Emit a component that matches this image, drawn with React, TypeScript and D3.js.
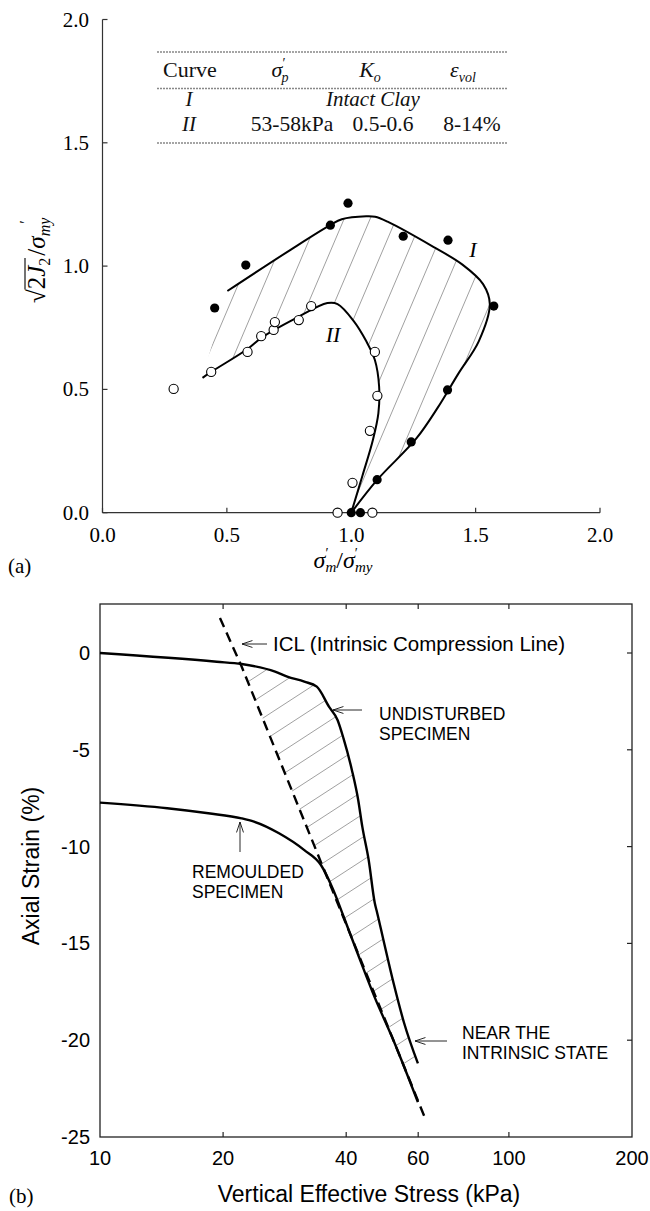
import React from 'react';
import * as d3 from 'd3';

type P = [number, number];

// ---------- (a) data ----------
const topXTicks = [0, 0.5, 1.0, 1.5, 2.0];
const topYTicks = [0, 0.5, 1.0, 1.5, 2.0];

const curveIDots: P[] = [
  [0.987, 1.255], [0.916, 1.166], [1.209, 1.121], [1.389, 1.105], [0.576, 1.004],
  [0.451, 0.83], [1.573, 0.838], [1.387, 0.498], [1.241, 0.287], [1.104, 0.134],
  [1.0, 0.0], [1.037, 0.0],
];
const curveIIDots: P[] = [
  [0.286, 0.502], [0.437, 0.571], [0.583, 0.652], [0.638, 0.716], [0.688, 0.741],
  [0.693, 0.773], [0.789, 0.781], [0.839, 0.838], [1.095, 0.652], [1.105, 0.474],
  [1.075, 0.332], [1.005, 0.121], [0.945, 0.0], [1.085, 0.0],
];
const curveILine: P[] = [
  [0.502, 0.899], [0.759, 1.068], [0.915, 1.166], [0.962, 1.19], [1.06, 1.202],
  [1.096, 1.2], [1.146, 1.18], [1.33, 1.078], [1.447, 1.006], [1.53, 0.927],
  [1.557, 0.846], [1.513, 0.696], [1.43, 0.563], [1.347, 0.425], [1.261, 0.3],
  [1.105, 0.134], [1.0, 0.0],
];
const curveIILine: P[] = [
  [0.402, 0.547], [0.437, 0.571], [0.583, 0.664], [0.64, 0.71], [0.78, 0.79],
  [0.904, 0.85], [0.945, 0.846], [1.01, 0.777], [1.06, 0.696], [1.095, 0.619],
  [1.112, 0.512], [1.109, 0.403], [1.087, 0.295], [1.045, 0.15], [1.0, 0.0],
];

// ---------- (b) data ----------
const botXTicks = [10, 20, 40, 60, 100, 200];
const botYTicks = [0, -5, -10, -15, -20, -25];

const undisturbed: P[] = [
  [10, 0], [19.3, -0.45], [22.2, -0.57], [26.8, -0.96], [28.7, -1.22], [31.6, -1.48],
  [33.9, -1.74], [36.3, -2.77], [38.1, -3.46], [39.4, -4.41], [41.3, -6.04],
  [42.8, -7.59], [43.8, -8.97], [45.4, -10.69], [47.0, -12.93], [47.6, -13.4],
  [49.3, -14.8], [52.3, -17.1], [55.4, -19.1], [59.9, -21.2],
];
const remoulded: P[] = [
  [10, -7.73], [14.6, -8.02], [18.4, -8.28], [22.2, -8.54], [23.8, -8.71],
  [27.4, -9.31], [31.6, -10.18], [34.7, -10.95], [37.2, -12.24], [39.4, -13.6],
  [42.8, -15.6], [47.0, -17.8], [51.7, -19.8], [59.9, -23.2],
];
const icl: P[] = [
  [19.65, 1.81], [22.2, -0.7], [34.7, -10.8], [62.3, -24.0],
];

// ---------- scales ----------
const xTop = d3.scaleLinear().domain([0, 2]).range([102.5, 600]);
const yTop = d3.scaleLinear().domain([0, 2]).range([512.7, 19.5]);
const xBot = d3.scaleLog().domain([10, 200]).range([100, 632]);
const yBot = d3.scaleLinear().domain([-25, 0]).range([1137, 653]);
const botTopY = 604;

const serif = 'Liberation Serif, Times New Roman, serif';
const sans = 'Liberation Sans, Arial, sans-serif';

const lineTop = d3.line<P>().x(d => xTop(d[0])).y(d => yTop(d[1])).curve(d3.curveCatmullRom.alpha(0.5));
const lineBot = d3.line<P>().x(d => xBot(d[0])).y(d => yBot(d[1])).curve(d3.curveMonotoneX);
const lineBotLin = d3.line<P>().x(d => xBot(d[0])).y(d => yBot(d[1]));

function Arrow({ x1, y1, x2, y2 }: { x1: number; y1: number; x2: number; y2: number }) {
  const a = Math.atan2(y2 - y1, x2 - x1);
  const L = 11, h = 0.32;
  const p1 = [x2 - L * Math.cos(a - h), y2 - L * Math.sin(a - h)];
  const p2 = [x2 - L * Math.cos(a + h), y2 - L * Math.sin(a + h)];
  return (
    <path d={`M${x1},${y1}L${x2},${y2}M${p1[0]},${p1[1]}L${x2},${y2}L${p2[0]},${p2[1]}`}
      fill="none" stroke="#111" strokeWidth={0.9} />
  );
}

export default function App() {
  const clipTop = lineTop(curveILine)! + lineTop([...curveIILine].reverse())!.replace(/^M/, 'L') + 'Z';
  const topHatch: string[] = [];
  const s1 = 2.35;
  for (let k = -12; k < 30; k++) {
    const xb = 60 + k * 26;
    topHatch.push(`M${xb},520L${xb + 500 / s1},20`);
  }

  const und = undisturbed.filter(d => d[0] >= 22.2);
  const endY = und[und.length - 1][1];
  const iclUp = icl.filter(d => d[1] > endY && d[1] < -0.5);
  const a = icl[icl.length - 2], b = icl[icl.length - 1];
  const t = (endY - a[1]) / (b[1] - a[1]);
  const iclEnd: P = [Math.pow(10, Math.log10(a[0]) + t * (Math.log10(b[0]) - Math.log10(a[0]))), endY];
  const clipBotPts: P[] = [...und, iclEnd, ...iclUp.reverse()];
  const clipBot = lineBotLin(clipBotPts)! + 'Z';
  const botHatch: string[] = [];
  for (let k = -5; k < 40; k++) {
    const yb = 640 + k * 23;
    botHatch.push(`M100,${yb}L632,${yb - 0.65 * 532}`);
  }

  return (
    <svg width={650} height={1211} style={{ position: 'absolute', left: 0, top: 0, background: '#fff' }}>
      <defs>
        <clipPath id="clipTop"><path d={clipTop} /></clipPath>
        <clipPath id="clipBot"><path d={clipBot} /></clipPath>
      </defs>
      <rect width={650} height={1211} fill="#fff" />

      {/* ===================== (a) ===================== */}
      <g>
        <g clipPath="url(#clipTop)">
          {topHatch.map((d, i) => <path key={i} d={d} stroke="#777" strokeWidth={0.7} fill="none" />)}
        </g>
        <line x1={xTop(0)} x2={xTop(0)} y1={yTop(0)} y2={yTop(2)} stroke="#333" strokeWidth={1.2} />
        <line x1={xTop(0)} x2={xTop(2)} y1={yTop(0)} y2={yTop(0)} stroke="#333" strokeWidth={1.2} />
        {topYTicks.map(v => (
          <g key={'ty' + v}>
            <line x1={xTop(0)} x2={xTop(0) + 5} y1={yTop(v)} y2={yTop(v)} stroke="#333" strokeWidth={1.2} />
            <text x={89} y={yTop(v) + 7} textAnchor="end" fontFamily={serif} fontSize={21}>{v.toFixed(1)}</text>
          </g>
        ))}
        {topXTicks.map(v => (
          <g key={'tx' + v}>
            <line x1={xTop(v)} x2={xTop(v)} y1={yTop(0)} y2={yTop(0) - 5} stroke="#333" strokeWidth={1.2} />
            <text x={xTop(v)} y={542} textAnchor="middle" fontFamily={serif} fontSize={21}>{v.toFixed(1)}</text>
          </g>
        ))}

        {/* table */}
        <line x1={157} x2={508} y1={52} y2={52} stroke="#888" strokeWidth={1.3} strokeDasharray="2 1" />
        <line x1={157} x2={508} y1={88.5} y2={88.5} stroke="#888" strokeWidth={1.3} strokeDasharray="2 1" />
        <line x1={157} x2={508} y1={143} y2={143} stroke="#888" strokeWidth={1.3} strokeDasharray="2 1" />
        <g fontFamily={serif} fontSize={21} fill="#111">
          <text x={190} y={77} textAnchor="middle" fontSize={22}>Curve</text>
          <text x={280} y={77} textAnchor="middle" fontSize={22}>
            <tspan fontStyle="italic">σ</tspan>
            <tspan fontSize={14} dy={-9}>′</tspan>
            <tspan fontSize={14} fontStyle="italic" dx={-4} dy={14}>p</tspan>
          </text>
          <text x={370} y={77} textAnchor="middle" fontSize={22}>
            <tspan fontStyle="italic">K</tspan>
            <tspan fontSize={14} fontStyle="italic" dy={5}>o</tspan>
          </text>
          <text x={463} y={77} textAnchor="middle" fontSize={22}>
            <tspan fontStyle="italic">ε</tspan>
            <tspan fontSize={14} fontStyle="italic" dy={5}>vol</tspan>
          </text>
          <text x={189} y={106} textAnchor="middle" fontStyle="italic">I</text>
          <text x={373} y={106} textAnchor="middle" fontStyle="italic">Intact Clay</text>
          <text x={189} y={130.5} textAnchor="middle" fontStyle="italic">II</text>
          <text x={292} y={130.5} textAnchor="middle" fontSize={21.5}>53-58kPa</text>
          <text x={383} y={130.5} textAnchor="middle" fontSize={21.5}>0.5-0.6</text>
          <text x={472} y={130.5} textAnchor="middle" fontSize={21.5}>8-14%</text>
        </g>

        <path d={lineTop(curveILine)!} fill="none" stroke="#000" strokeWidth={2} />
        <path d={lineTop(curveIILine)!} fill="none" stroke="#000" strokeWidth={2} />
        {curveIIDots.map((d, i) => (
          <circle key={'o' + i} cx={xTop(d[0])} cy={yTop(d[1])} r={4.6} fill="#fff" stroke="#000" strokeWidth={1.1} />
        ))}
        {curveIDots.map((d, i) => (
          <circle key={'f' + i} cx={xTop(d[0])} cy={yTop(d[1])} r={4.6} fill="#000" />
        ))}
        <text x={473} y={257} fontFamily={serif} fontSize={22} fontStyle="italic" textAnchor="middle">I</text>
        <text x={333} y={342} fontFamily={serif} fontSize={22} fontStyle="italic" textAnchor="middle">II</text>

        <text x={343} y={568} textAnchor="middle" fontFamily={serif} fontSize={24}>
          <tspan fontStyle="italic">σ</tspan>
          <tspan fontSize={14} dy={-10}>′</tspan>
          <tspan fontSize={15} fontStyle="italic" dx={-3} dy={14}>m</tspan>
          <tspan dy={-4}>/</tspan>
          <tspan fontStyle="italic">σ</tspan>
          <tspan fontSize={14} dy={-10}>′</tspan>
          <tspan fontSize={15} fontStyle="italic" dx={-3} dy={14}>my</tspan>
        </text>
        <text x={8} y={573} fontFamily={serif} fontSize={21}>(a)</text>
        <g transform="translate(45,256) rotate(-90)">
          <text x={-47} y={0} fontFamily={serif} fontSize={25}>
            <tspan>√</tspan>
            <tspan>2</tspan>
            <tspan fontStyle="italic">J</tspan>
            <tspan fontSize={16} dy={5}>2</tspan>
            <tspan dy={-5} dx={2}>/</tspan>
            <tspan fontStyle="italic">σ</tspan>
            <tspan fontSize={16} fontStyle="italic" dy={5}>my</tspan>
            <tspan fontSize={16} dx={-6} dy={-19}>′</tspan>
          </text>
          <line x1={-33.5} x2={-2} y1={-20} y2={-20} stroke="#000" strokeWidth={1.1} />
        </g>
      </g>

      {/* ===================== (b) ===================== */}
      <g>
        <g clipPath="url(#clipBot)">
          {botHatch.map((d, i) => <path key={i} d={d} stroke="#777" strokeWidth={0.7} fill="none" />)}
        </g>
        <rect x={100} y={botTopY} width={532} height={yBot(-25) - botTopY} fill="none" stroke="#222" strokeWidth={1.3} />
        {botXTicks.slice(1, -1).map(v => (
          <g key={'bx' + v}>
            <line x1={xBot(v)} x2={xBot(v)} y1={yBot(-25)} y2={yBot(-25) - 5} stroke="#222" strokeWidth={1.2} />
            <line x1={xBot(v)} x2={xBot(v)} y1={botTopY} y2={botTopY + 5} stroke="#222" strokeWidth={1.2} />
          </g>
        ))}
        {botXTicks.map(v => (
          <text key={'bxl' + v} x={xBot(v)} y={1165} textAnchor="middle" fontFamily={sans} fontSize={20}>{v}</text>
        ))}
        {botYTicks.map(v => (
          <g key={'by' + v}>
            {v > -25 && <line x1={632} x2={627} y1={yBot(v)} y2={yBot(v)} stroke="#222" strokeWidth={1.2} />}
            <text x={90} y={yBot(v) + 7} textAnchor="end" fontFamily={sans} fontSize={20}>{v}</text>
          </g>
        ))}

        <path d={lineBot(undisturbed)!} fill="none" stroke="#000" strokeWidth={2.4} />
        <path d={lineBot(remoulded)!} fill="none" stroke="#000" strokeWidth={2.4} />
        <path d={lineBotLin(icl)!} fill="none" stroke="#000" strokeWidth={2.4} strokeDasharray="10 6" />

        <Arrow x1={267} y1={644} x2={242} y2={644} />
        <text x={273} y={651} fontFamily={sans} fontSize={20.5}>ICL (Intrinsic Compression Line)</text>
        <Arrow x1={362} y1={710} x2={333} y2={710} />
        <text x={379} y={720} fontFamily={sans} fontSize={17.5}>UNDISTURBED</text>
        <text x={379} y={740} fontFamily={sans} fontSize={17.5}>SPECIMEN</text>
        <Arrow x1={240} y1={852} x2={240} y2={822} />
        <text x={192} y={878} fontFamily={sans} fontSize={17.5}>REMOULDED</text>
        <text x={192} y={898} fontFamily={sans} fontSize={17.5}>SPECIMEN</text>
        <Arrow x1={447} y1={1041} x2={415} y2={1041} />
        <text x={462} y={1039} fontFamily={sans} fontSize={17.5}>NEAR THE</text>
        <text x={462} y={1059} fontFamily={sans} fontSize={17.5}>INTRINSIC STATE</text>

        <g transform="translate(39,866) rotate(-90)">
          <text x={0} y={0} textAnchor="middle" fontFamily={sans} fontSize={23}>Axial Strain (%)</text>
        </g>
        <text x={369} y={1202} textAnchor="middle" fontFamily={sans} fontSize={23}>Vertical Effective Stress (kPa)</text>
        <text x={9} y={1203} fontFamily={serif} fontSize={21}>(b)</text>
      </g>
    </svg>
  );
}
